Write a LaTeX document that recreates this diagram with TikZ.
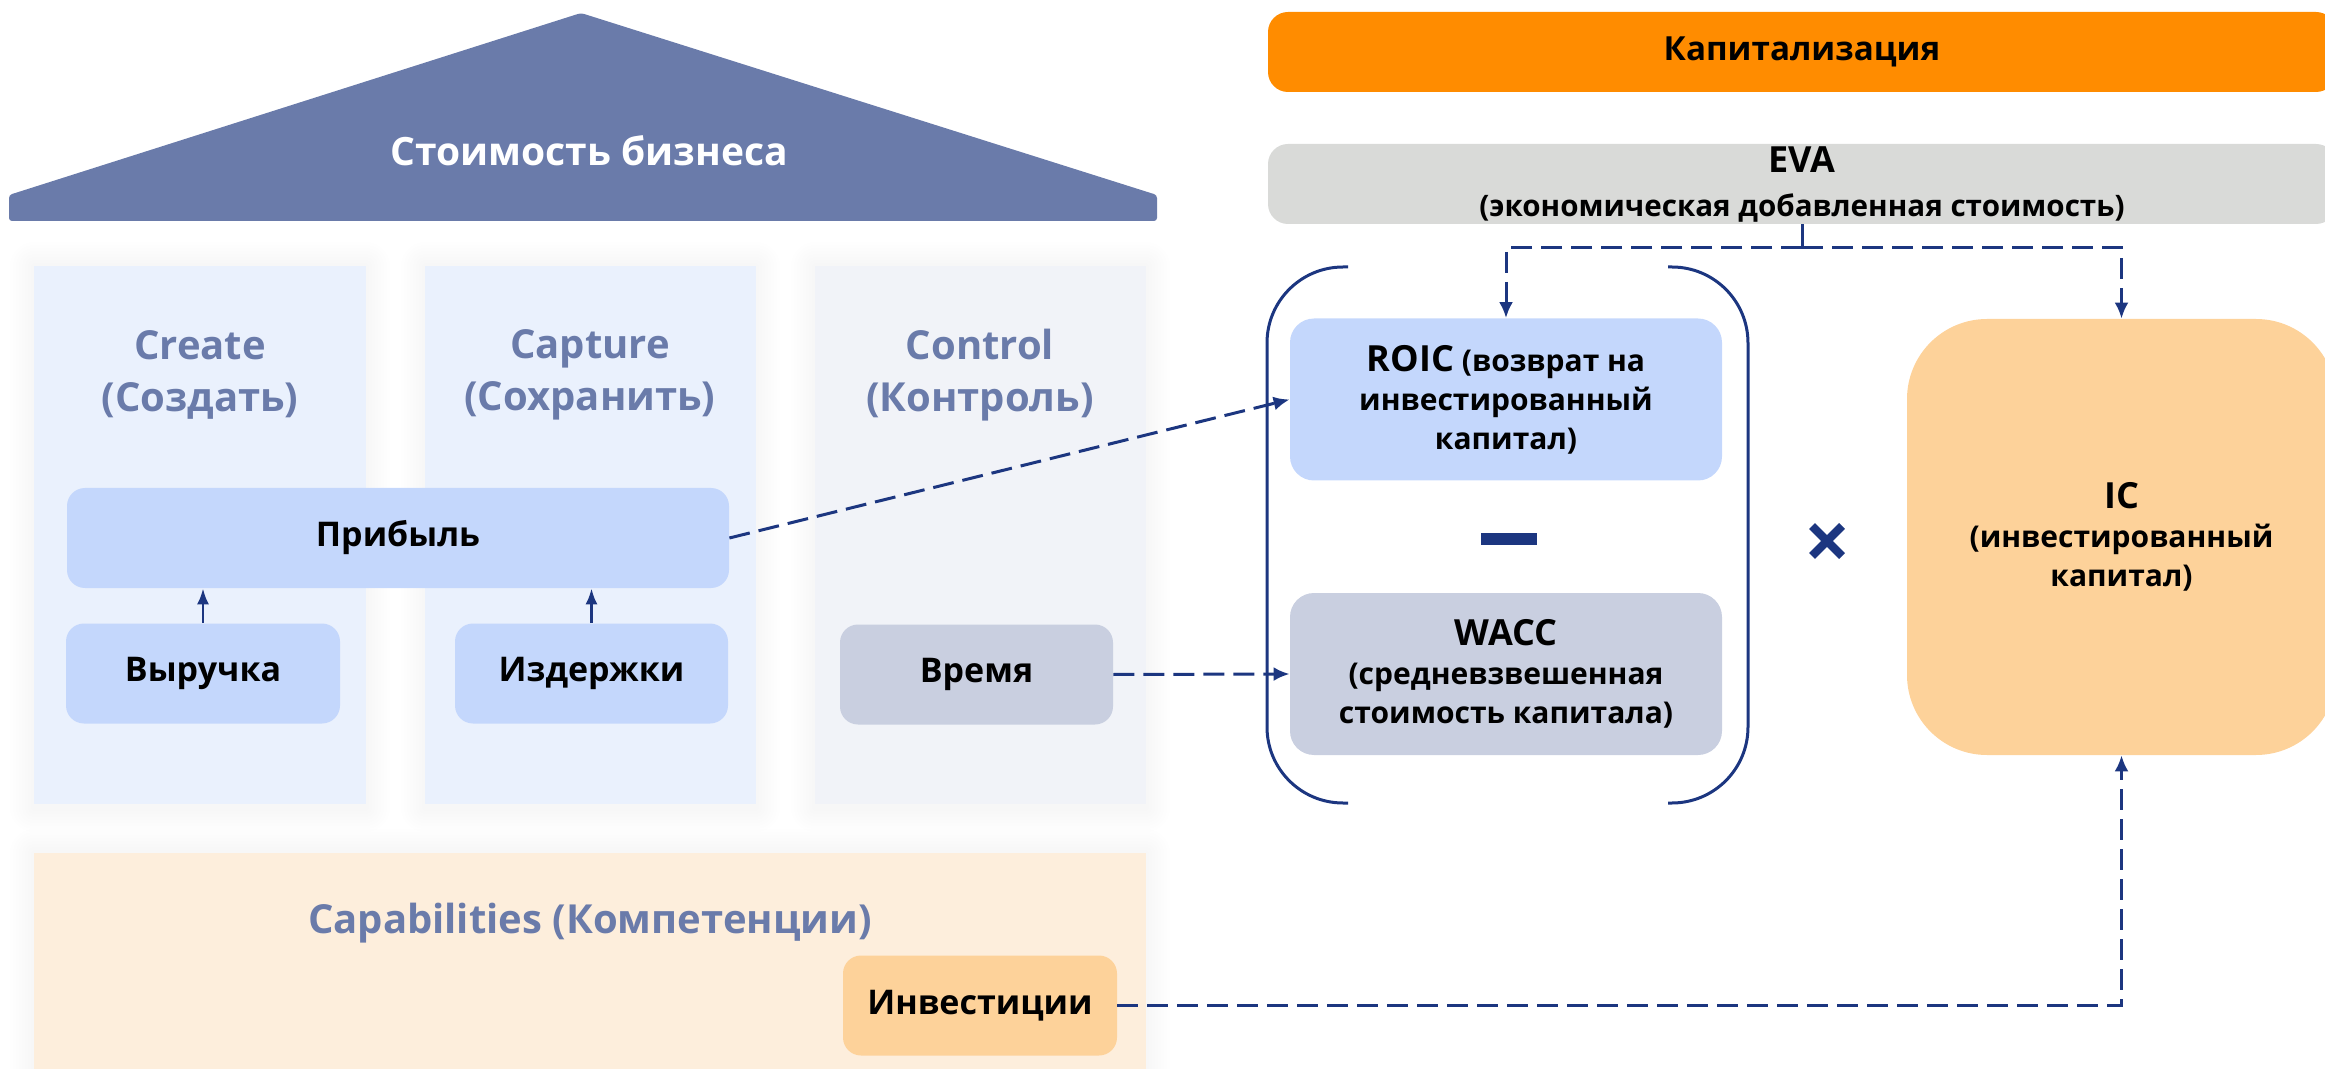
\documentclass[tikz,border=0pt]{standalone}
\usepackage{fontspec}
\setmainfont{Open Sans}
\usetikzlibrary{arrows.meta}

\definecolor{roofblue}{HTML}{6A7BAA}
\definecolor{navy}{HTML}{1C3680}
\definecolor{panelblue}{HTML}{EAF1FD}
\definecolor{panelgray}{HTML}{F1F3F8}
\definecolor{panelcream}{HTML}{FDEEDC}
\definecolor{boxblue}{HTML}{C4D7FC}
\definecolor{boxgray}{HTML}{C9CFE0}
\definecolor{boxorange}{HTML}{FDD29A}
\definecolor{barorange}{HTML}{FF8C00}
\definecolor{bargray}{HTML}{D9DAD8}

\begin{document}
\begin{tikzpicture}[x=0.5pt,y=-0.5pt,
  lbl/.style={font=\bfseries\fontsize{17}{22}\selectfont, align=center, text=black},
  coltitle/.style={font=\bfseries\fontsize{20}{26}\selectfont, align=center, text=roofblue},
  card/.style={lbl, rounded corners=9pt, inner sep=0pt, minimum height=50pt},
  bigcard/.style={lbl, rounded corners=12pt, inner sep=0pt, minimum width=216pt, minimum height=81pt},
  solidarr/.style={navy, line width=1.3pt, -{Latex[length=8pt,width=6pt]}},
  dasharr/.style={navy, line width=1.5pt, dash pattern=on 10.5pt off 4.5pt, -{Latex[length=8pt,width=7pt]}},
  bracket/.style={navy, line width=1.5pt, rounded corners=38pt}]
\useasboundingbox (0,0) rectangle (2325,1069);

% soft halo behind the pillars and the foundation
\foreach \d in {3,6,...,24} {
  \fill[black, opacity=0.0035, rounded corners=\d*0.5pt] (34-\d,266-\d) rectangle (366+\d,804+\d+4);
  \fill[black, opacity=0.0035, rounded corners=\d*0.5pt] (425-\d,266-\d) rectangle (756+\d,804+\d+4);
  \fill[black, opacity=0.0035, rounded corners=\d*0.5pt] (815-\d,266-\d) rectangle (1146+\d,804+\d+4);
  \fill[black, opacity=0.0035, rounded corners=\d*0.5pt] (34-\d,853-\d) rectangle (1146+\d,1100);
}

% pillars and foundation
\fill[panelblue] (34,266) rectangle (366,804);
\fill[panelblue] (425,266) rectangle (756,804);
\fill[panelgray] (815,266) rectangle (1146,804);
\fill[panelcream] (34,853) rectangle (1146,1069);

% roof
\fill[roofblue, rounded corners=1.5pt] (9,195) -- (581,13) -- (1157,195) -- (1157,221) -- (9,221) -- cycle;
\node[font=\bfseries\fontsize{19.5}{24}\selectfont, text=white] (title) at (589,151) {Стоимость бизнеса};

% pillar headings
\node[coltitle] (create) at (200,375) {Create\\(Создать)};
\node[coltitle] (capture) at (590,375) {Capture\\(Сохранить)};
\node[coltitle] (control) at (980,375) {Control\\(Контроль)};
\node[coltitle] (capab) at (590,923) {Capabilities (Компетенции)};

% drivers
\node[card, fill=boxblue, minimum width=331pt] (prib) at (398,538) {Прибыль};
\node[card, fill=boxblue, minimum width=137pt] (vyr) at (203,673.5) {Выручка};
\node[card, fill=boxblue, minimum width=136.5pt] (izd) at (591.5,673.5) {Издержки};
\node[card, fill=boxgray, minimum width=136.5pt] (vrem) at (976.5,674.5) {Время};
\node[card, fill=boxorange, minimum width=137pt] (inv) at (980,1005.5) {Инвестиции};

% capitalization side
\node[lbl, fill=barorange, rounded corners=10pt, minimum width=534pt, minimum height=40pt, inner sep=0pt,
      font=\bfseries\fontsize{16.6}{22}\selectfont] (cap) at (1802,52) {Капитализация};
\node[lbl, fill=bargray, rounded corners=10pt, minimum width=534pt, minimum height=40pt, inner sep=0pt,
      font=\bfseries\fontsize{14.8}{22}\selectfont] (eva) at (1802,184)
  {{\fontsize{18}{22}\selectfont EVA}\\(экономическая добавленная стоимость)};

\node[bigcard, fill=boxblue, font=\bfseries\fontsize{15}{19.5}\selectfont] (roic) at (1506,399.5)
  {{\fontsize{18}{19.5}\selectfont ROIC} (возврат на\\инвестированный\\капитал)};
\node[bigcard, fill=boxgray, font=\bfseries\fontsize{15}{19.5}\selectfont] (wacc) at (1506,674)
  {{\fontsize{18}{19.5}\selectfont WACC}\\(средневзвешенная\\стоимость капитала)};
\node[lbl, fill=boxorange, rounded corners=40pt, inner sep=0pt, minimum width=214.5pt, minimum height=218pt,
      font=\bfseries\fontsize{15}{19.5}\selectfont] (ic) at (2121.5,537)
  {{\fontsize{18}{19.5}\selectfont IC}\\(инвестированный\\капитал)};

% operators
\node[fill=navy, inner sep=0pt, minimum width=28pt, minimum height=6pt] (minus) at (1509,539) {};
\coordinate (times) at (1827,541);
\draw[navy, line width=4.2pt] ([shift={(-15,-15)}]times) -- ([shift={(15,15)}]times)
                             ([shift={(15,-15)}]times) -- ([shift={(-15,15)}]times);

% parentheses around ROIC - WACC
\draw[bracket] (1348,267) -- (1267,267) -- (1267,803) -- (1348,803);
\draw[bracket] (1668,267) -- (1748,267) -- (1748,803) -- (1668,803);

% connectors
\draw[solidarr] (vyr.north) -- (vyr.north |- prib.south);
\draw[solidarr] (izd.north) -- (izd.north |- prib.south);
\draw[dasharr] (prib.east) -- (roic.west);
\draw[dasharr] (vrem.east) -- (wacc.west);
\draw[dasharr] (inv.east) -| (ic.south);
\coordinate (split) at (1802,248);
\draw[navy, line width=1.5pt] (eva.south) -- (split);
\draw[dasharr] (split) -| (roic.north);
\draw[dasharr] (split) -| (ic.north);
\end{tikzpicture}
\end{document}
